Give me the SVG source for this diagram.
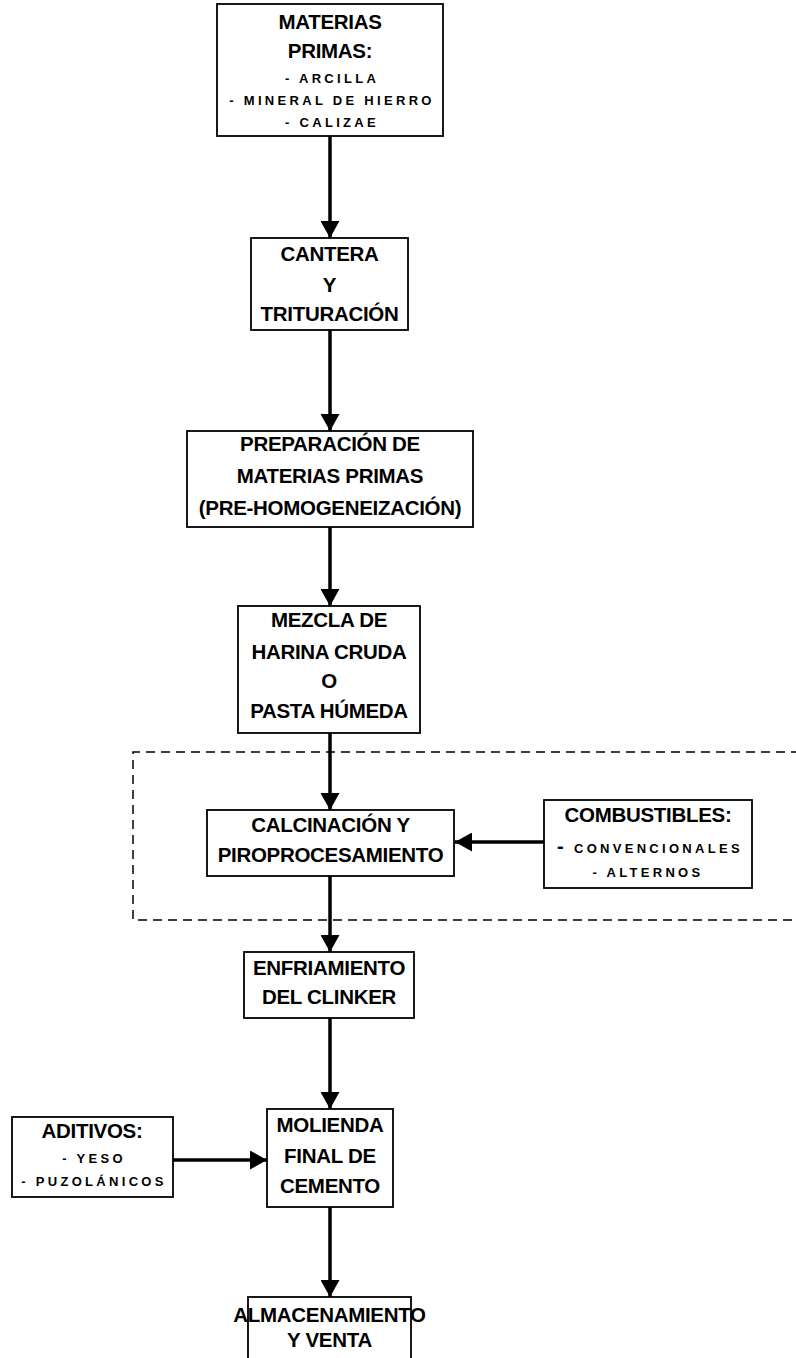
<svg xmlns="http://www.w3.org/2000/svg" width="796" height="1358" viewBox="0 0 796 1358">
<defs>
<style>
.box{fill:#fff;stroke:#000;stroke-width:1.8}
.t{font-family:"Liberation Sans",Arial,sans-serif;font-weight:bold;font-size:20.5px;letter-spacing:-0.3px;fill:#000;text-anchor:middle}
.s{font-family:"Liberation Sans",Arial,sans-serif;font-weight:bold;font-size:13px;letter-spacing:3.3px;fill:#000;text-anchor:middle}
.c{stroke:#000;stroke-width:3.5;fill:none}
.d{stroke:#000;stroke-width:1.5;fill:none;stroke-dasharray:9,6}
</style>
<marker id="ah" markerUnits="userSpaceOnUse" markerWidth="19" markerHeight="19" viewBox="0 0 19 19" refX="17" refY="9.5" orient="auto">
<path d="M0,0 L17,9.5 L0,19 z" fill="#000"/>
</marker>
</defs>
<rect width="796" height="1358" fill="#fff"/>
<path id="dashed-zone" class="d" d="M800,752 H133 V920 H800"/>
<g id="connectors">
<line class="c" x1="330" y1="136" x2="330" y2="238" marker-end="url(#ah)"/>
<line class="c" x1="330" y1="330" x2="330" y2="431" marker-end="url(#ah)"/>
<line class="c" x1="330" y1="527" x2="330" y2="606" marker-end="url(#ah)"/>
<line class="c" x1="330" y1="733" x2="330" y2="810" marker-end="url(#ah)"/>
<line class="c" x1="330" y1="876" x2="330" y2="952" marker-end="url(#ah)"/>
<line class="c" x1="330" y1="1018" x2="330" y2="1109" marker-end="url(#ah)"/>
<line class="c" x1="330" y1="1207" x2="330" y2="1297" marker-end="url(#ah)"/>
<line class="c" x1="544" y1="842" x2="455" y2="842" marker-end="url(#ah)"/>
<line class="c" x1="173" y1="1160" x2="267" y2="1160" marker-end="url(#ah)"/>
</g>
<g id="materias-primas">
<rect class="box" x="217" y="4" width="226" height="132"/>
<text class="t" x="330" y="29">MATERIAS</text>
<text class="t" x="330" y="58">PRIMAS:</text>
<text class="s" x="332" y="83">- ARCILLA</text>
<text class="s" x="332" y="105">- MINERAL DE HIERRO</text>
<text class="s" x="332" y="127">- CALIZAE</text>
</g>
<g id="cantera">
<rect class="box" x="251" y="238" width="157" height="92"/>
<text class="t" x="329.5" y="261">CANTERA</text>
<text class="t" x="329.5" y="292">Y</text>
<text class="t" x="329.5" y="321">TRITURACIÓN</text>
</g>
<g id="preparacion">
<rect class="box" x="187" y="431" width="286" height="96"/>
<text class="t" x="330" y="451">PREPARACIÓN DE</text>
<text class="t" x="330" y="483">MATERIAS PRIMAS</text>
<text class="t" x="330" y="515">(PRE-HOMOGENEIZACIÓN)</text>
</g>
<g id="mezcla">
<rect class="box" x="238" y="606" width="182" height="127"/>
<text class="t" x="329" y="627">MEZCLA DE</text>
<text class="t" x="329" y="659">HARINA CRUDA</text>
<text class="t" x="329" y="688">O</text>
<text class="t" x="329" y="718">PASTA HÚMEDA</text>
</g>
<g id="calcinacion">
<rect class="box" x="207" y="810" width="247" height="66"/>
<text class="t" x="330.5" y="832">CALCINACIÓN Y</text>
<text class="t" x="330.5" y="862">PIROPROCESAMIENTO</text>
</g>
<g id="combustibles">
<rect class="box" x="544" y="800" width="208" height="88"/>
<text class="t" x="648" y="822">COMBUSTIBLES:</text>
<text class="s" x="650" y="853"><tspan font-size="20px">-</tspan> CONVENCIONALES</text>
<text class="s" x="648" y="877">- ALTERNOS</text>
</g>
<g id="enfriamiento">
<rect class="box" x="244" y="952" width="170" height="66"/>
<text class="t" x="329" y="975">ENFRIAMIENTO</text>
<text class="t" x="329" y="1004">DEL CLINKER</text>
</g>
<g id="molienda">
<rect class="box" x="267" y="1109" width="126" height="98"/>
<text class="t" x="330" y="1132">MOLIENDA</text>
<text class="t" x="330" y="1163">FINAL DE</text>
<text class="t" x="330" y="1193">CEMENTO</text>
</g>
<g id="aditivos">
<rect class="box" x="12" y="1117" width="161" height="80"/>
<text class="t" x="92" y="1138">ADITIVOS:</text>
<text class="s" x="94" y="1163">- YESO</text>
<text class="s" x="94" y="1186">- PUZOLÁNICOS</text>
</g>
<g id="almacenamiento">
<rect class="box" x="248" y="1297" width="163" height="80"/>
<text class="t" x="329.5" y="1322">ALMACENAMIENTO</text>
<text class="t" x="329.5" y="1347">Y VENTA</text>
</g>
</svg>
